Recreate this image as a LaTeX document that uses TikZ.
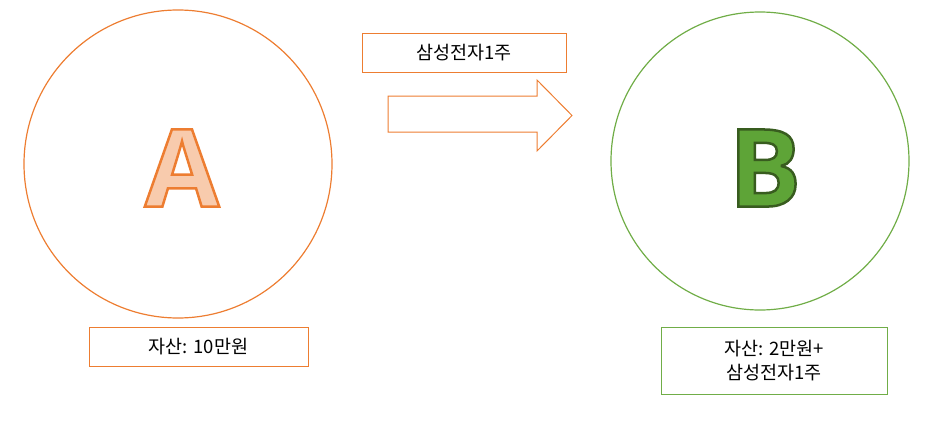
\documentclass[tikz,border=0pt]{standalone}
\usepackage{fontspec}
\setmainfont{Noto Sans CJK KR}
\newfontfamily\letterfont{Open Sans}
\definecolor{ora}{HTML}{ED7D31}
\definecolor{grn}{HTML}{70AD47}
\tikzset{x=1pt,y=-1pt,
  lbl/.style={draw,line width=0.8pt,font=\fontsize{18.5}{24}\selectfont,align=center,inner sep=0pt},
  ring/.style={draw,line width=1.2pt}}
\begin{document}
\begin{tikzpicture}
\useasboundingbox (0,0) rectangle (940,423);
\draw[ring,ora] (178,164) circle (154);
\draw[ring,grn] (760,161) circle (149);
\node (la) at (182,168) {\letterfont\bfseries\fontsize{108}{108}\selectfont\special{pdf:code 0.973 0.796 0.678 rg 0.929 0.490 0.192 RG 2.5 w 2 Tr}A\special{pdf:code 0 Tr}};
\node (lb) at (765,168) {\letterfont\bfseries\fontsize{108}{108}\selectfont\special{pdf:code 0.369 0.643 0.216 rg 0.22 0.36 0.12 RG 2.5 w 2 Tr}B\special{pdf:code 0 Tr}};
\node[lbl,ora,text=black,minimum width=219,minimum height=39] (ba) at (198.5,346.5) {자산: 10만원};
\node[lbl,grn,text=black,minimum width=226,minimum height=67] (bb) at (774,360.5) {자산: 2만원+\\삼성전자1주};
\node[lbl,ora,text=black,minimum width=204,minimum height=39] (bt) at (464,52.5) {삼성전자1주};
\draw[ora,line width=1pt,line join=miter] (388,96) -- (537,96) -- (537,80) -- (572,115.5) -- (537,151) -- (537,132) -- (388,132) -- cycle;
\end{tikzpicture}
\end{document}
